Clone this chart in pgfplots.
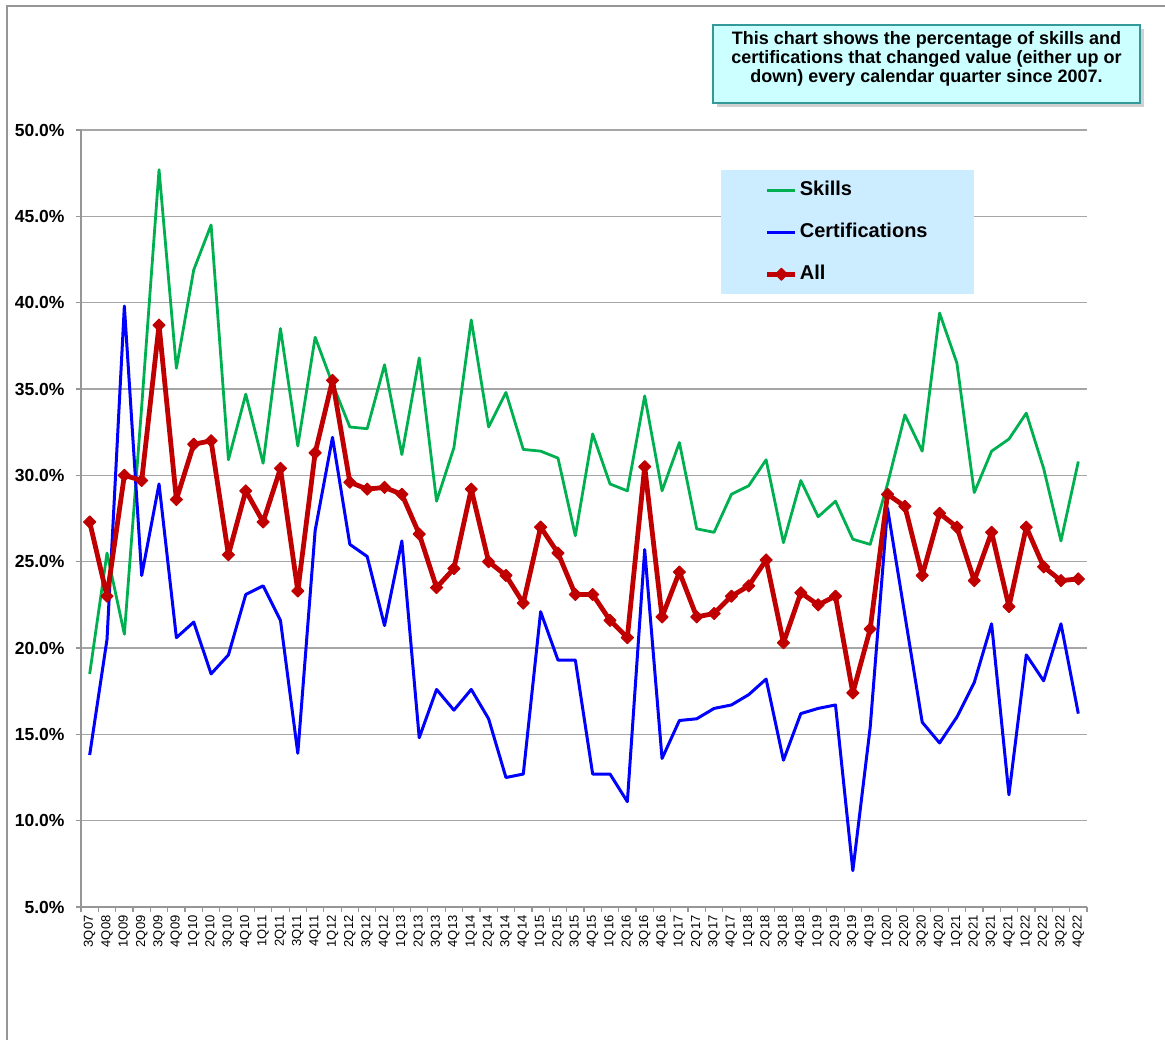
\documentclass[border=0pt]{standalone}
\usepackage{pgfplots}
\usepackage{pgfplotstable}
\pgfplotsset{compat=1.18}
\usepackage{fontspec}
\setmainfont{Liberation Sans}
\definecolor{skills}{RGB}{0,176,80}
\definecolor{certs}{RGB}{0,0,255}
\definecolor{allc}{RGB}{192,0,0}
\definecolor{legbg}{RGB}{204,236,255}
\definecolor{boxbg}{RGB}{204,255,255}
\definecolor{boxdraw}{RGB}{51,153,153}
\definecolor{gridc}{RGB}{166,166,166}
\definecolor{axc}{RGB}{150,150,150}

\pgfplotstableread{
x skills certs all
0 18.5 13.8 27.3
1 25.5 20.5 23.0
2 20.8 39.8 30.0
3 34.0 24.2 29.7
4 47.7 29.5 38.7
5 36.2 20.6 28.6
6 41.9 21.5 31.8
7 44.5 18.5 32.0
8 30.9 19.6 25.4
9 34.7 23.1 29.1
10 30.7 23.6 27.3
11 38.5 21.6 30.4
12 31.7 13.9 23.3
13 38.0 26.8 31.3
14 35.3 32.2 35.5
15 32.8 26.0 29.6
16 32.7 25.3 29.2
17 36.4 21.3 29.3
18 31.2 26.2 28.9
19 36.8 14.8 26.6
20 28.5 17.6 23.5
21 31.6 16.4 24.6
22 39.0 17.6 29.2
23 32.8 15.9 25.0
24 34.8 12.5 24.2
25 31.5 12.7 22.6
26 31.4 22.1 27.0
27 31.0 19.3 25.5
28 26.5 19.3 23.1
29 32.4 12.7 23.1
30 29.5 12.7 21.6
31 29.1 11.1 20.6
32 34.6 25.7 30.5
33 29.1 13.6 21.8
34 31.9 15.8 24.4
35 26.9 15.9 21.8
36 26.7 16.5 22.0
37 28.9 16.7 23.0
38 29.4 17.3 23.6
39 30.9 18.2 25.1
40 26.1 13.5 20.3
41 29.7 16.2 23.2
42 27.6 16.5 22.5
43 28.5 16.7 23.0
44 26.3 7.1 17.4
45 26.0 15.4 21.1
46 29.5 28.1 28.9
47 33.5 21.9 28.2
48 31.4 15.7 24.2
49 39.4 14.5 27.8
50 36.5 16.0 27.0
51 29.0 18.0 23.9
52 31.4 21.4 26.7
53 32.1 11.5 22.4
54 33.6 19.6 27.0
55 30.4 18.1 24.7
56 26.2 21.4 23.9
57 30.8 16.2 24.0
}\data

\begin{document}
\begin{tikzpicture}
\path[use as bounding box] (-81pt,-133pt) rectangle (1084pt,907pt);
\draw[axc, line width=1.5pt] (-74pt,-133pt) -- (-74pt,901pt) -- (1084pt,901pt);
\fill[gray!60, opacity=0.6] (636pt,878pt) rectangle (1063pt,800pt);
\filldraw[fill=boxbg, draw=boxdraw, line width=1.5pt] (632pt,882pt) rectangle (1059pt,804pt);
\node[align=center, font=\bfseries\fontsize{18}{19}\selectfont] at (845.5pt,848pt) {This chart shows the percentage of skills and\\ certifications that changed value (either up or\\ down) every calendar quarter since 2007.};

\begin{axis}[
 at={(0pt,0pt)}, anchor=south west,
 scale only axis, width=1006pt, height=777pt,
 xmin=-0.5, xmax=57.5, ymin=5, ymax=50,
 axis x line*=bottom, axis y line*=left,
 axis line style={-, axc, line width=1.8pt},
 ytick={5,10,...,50},
 yticklabel={\pgfmathprintnumber[fixed,fixed zerofill,precision=1,assume math mode=true]{\tick}\%},
 yticklabel style={font=\bfseries\fontsize{17.5}{20}\selectfont, xshift=-8pt},
 xtick={0,...,57},
 xticklabels={3Q07,4Q08,1Q09,2Q09,3Q09,4Q09,1Q10,2Q10,3Q10,4Q10,1Q11,2Q11,3Q11,4Q11,1Q12,2Q12,3Q12,4Q12,1Q13,2Q13,3Q13,4Q13,1Q14,2Q14,3Q14,4Q14,1Q15,2Q15,3Q15,4Q15,1Q16,2Q16,3Q16,4Q16,1Q17,2Q17,3Q17,4Q17,1Q18,2Q18,3Q18,4Q18,1Q19,2Q19,3Q19,4Q19,1Q20,2Q20,3Q20,4Q20,1Q21,2Q21,3Q21,4Q21,1Q22,2Q22,3Q22,4Q22},
 xticklabel style={rotate=90, anchor=east, font=\fontsize{13}{13}\selectfont},
 minor xtick={-0.5,0.5,...,57.5},
 major x tick style={draw=none},
 tick align=outside,
 major tick length=5pt, minor tick length=5pt,
 tick style={axc, line width=1.2pt},
 ymajorgrids, grid style={gridc, line width=1.5pt},
 legend cell align=left,
 legend image code/.code={\draw[mark repeat=2,mark phase=2,#1] plot coordinates {(0pt,0pt) (14pt,0pt) (28pt,0pt)};},
 legend style={at={(0.636,0.9485)}, anchor=north west, fill=legbg, draw=none,
   inner xsep=44pt, inner ysep=9pt, row sep=20pt,
   font=\bfseries\fontsize{20}{24}\selectfont,
   nodes={inner sep=2pt, text height=14pt, text depth=4pt}},
]
\addplot[skills, line width=2.8pt, line join=round] table[x=x,y=skills] {\data};
\addlegendentry{Skills}
\addplot[certs, line width=3pt, line join=round] table[x=x,y=certs] {\data};
\addlegendentry{Certifications}
\addplot[allc, line width=4.8pt, line join=round, mark=square*, mark size=4.3pt, mark options={rotate=45, line width=1pt, fill=allc, draw=allc}] table[x=x,y=all] {\data};
\addlegendentry{All}
\end{axis}
\end{tikzpicture}
\end{document}
